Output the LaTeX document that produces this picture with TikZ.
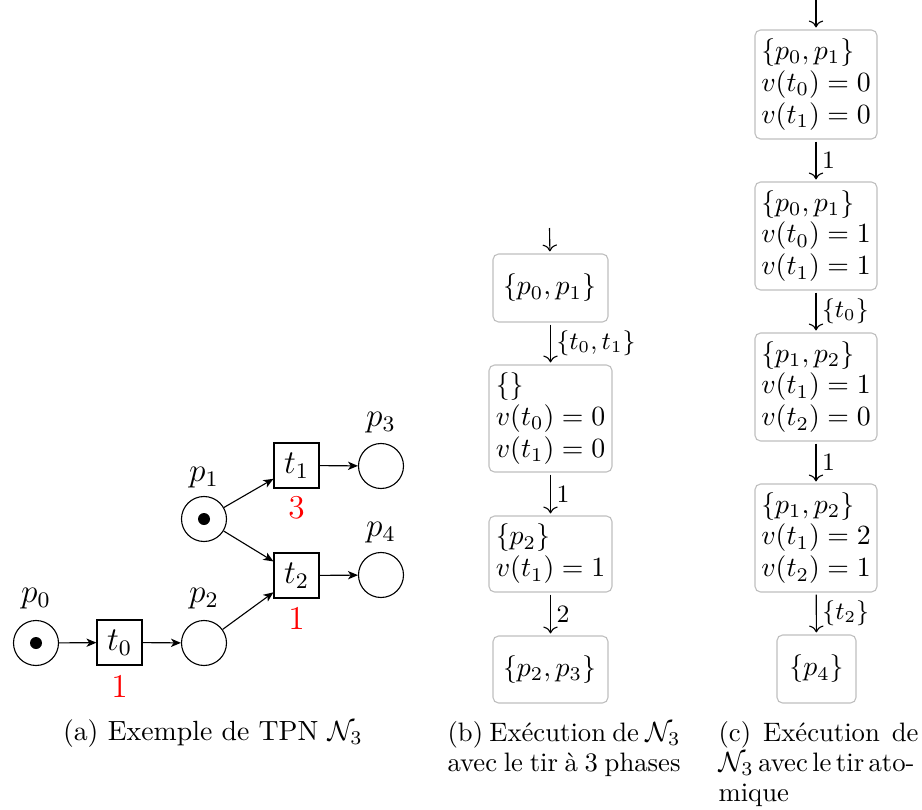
\documentclass[tikz,border=0pt]{standalone}
\usetikzlibrary{arrows.meta}
\newlength\upx \setlength\upx{0.36pt}
\newcommand\tightsp{\spaceskip=2.6pt plus 12pt minus 1pt\relax}
\begin{document}
\begin{tikzpicture}[x=0.36pt,y=-0.36pt,
  place/.style={circle,draw,minimum size=45\upx,inner sep=0pt},
  trans/.style={rectangle,draw,minimum size=45\upx,inner sep=0pt,font=\large},
  tok/.style={circle,fill,minimum size=12\upx,inner sep=0pt},
  plbl/.style={font=\large,inner sep=0pt},
  dly/.style={font=\large,text=red,inner sep=0pt},
  narr/.style={-{Stealth[length=3.6pt,width=3pt,inset=1pt]}},
  state/.style={draw=black!25,rounded corners=2pt,align=left,inner sep=0pt,
    font=\fontsize{10pt}{11.5pt}\selectfont},
  sarr/.style={->,shorten <=2\upx,shorten >=2\upx},
  elbl/.style={right,font=\small,inner sep=2pt},
  captxt/.style={inner sep=0pt,align=left,font=\fontsize{10pt}{10.8pt}\selectfont},
  subcap/.style={inner sep=0pt,align=left,font=\fontsize{9.6pt}{10.8pt}\selectfont}]
\useasboundingbox (0,0) rectangle (922,810);

% ---------- (a) Petri net ----------
\node[place] (p0) at (36,643) {};
\node[tok] (k0) at (p0) {};
\node[trans] (t0) at (119.5,642.5) {$t_0$};
\node[place] (p2) at (204,643) {};
\node[place] (p1) at (204,519) {};
\node[tok] (k1) at (p1) {};
\node[trans] (t1) at (296.5,465.5) {$t_1$};
\node[trans] (t2) at (296.5,575.5) {$t_2$};
\node[place] (p3) at (381,466) {};
\node[place] (p4) at (381,575) {};

\node[plbl] (lp0) at (36,599) {$p_0$};
\node[plbl] (lp1) at (204,478) {$p_1$};
\node[plbl] (lp2) at (204,599) {$p_2$};
\node[plbl] (lp3) at (381,423) {$p_3$};
\node[plbl] (lp4) at (381,533) {$p_4$};

\node[dly] (d0) at (119.5,686) {1};
\node[dly] (d1) at (296.5,508) {3};
\node[dly] (d2) at (296.5,618) {1};

\draw[narr] (p0) -- (t0);
\draw[narr] (t0) -- (p2);
\draw[narr] (p2) -- (t2);
\draw[narr] (p1) -- (t1);
\draw[narr] (p1) -- (t2);
\draw[narr] (t1) -- (p3);
\draw[narr] (t2) -- (p4);

\node[captxt,anchor=base] (capa) at (213,740) {(a) Exemple de TPN $\mathcal{N}_3$};

% ---------- (b) three-phase firing ----------
\coordinate (bs) at (549.5,228);
\node[state,minimum width=115\upx,minimum height=68\upx,text width=95\upx] (b1) at (550.5,288)
  {$\{p_0,p_1\}$};
\node[state,minimum width=123\upx,minimum height=107\upx] (b2) at (550.5,418.5)
  {$\{\}$\\ $v(t_0)=0$\\ $v(t_1)=0$};
\node[state,minimum width=123\upx,minimum height=76\upx] (b3) at (550.5,554)
  {$\{p_2\}$\\ $v(t_1)=1$};
\node[state,minimum width=115\upx,minimum height=67\upx,text width=95\upx] (b4) at (550.5,669.5)
  {$\{p_2,p_3\}$};
\draw[->,shorten >=2\upx] (bs) -- (b1);
\draw[sarr] (b1) -- node[elbl] (lb1) {$\{t_0,t_1\}$} (b2);
\draw[sarr] (b2) -- node[elbl] (lb2) {1} (b3);
\draw[sarr] (b3) -- node[elbl] (lb3) {2} (b4);

\node[subcap,anchor=north west] (capb) at (447,721)
  {\makebox[233\upx][s]{\tightsp (b) Exécution de $\mathcal{N}_3$}\\
   \makebox[233\upx][s]{\tightsp avec le tir à 3 phases}};

% ---------- (c) atomic firing ----------
\coordinate (cs) at (816,0);
\node[state,minimum width=122\upx,minimum height=109\upx] (c1) at (816,84.5)
  {$\{p_0,p_1\}$\\ $v(t_0)=0$\\ $v(t_1)=0$};
\node[state,minimum width=122\upx,minimum height=108\upx] (c2) at (816,236)
  {$\{p_0,p_1\}$\\ $v(t_0)=1$\\ $v(t_1)=1$};
\node[state,minimum width=122\upx,minimum height=108\upx] (c3) at (816,387)
  {$\{p_1,p_2\}$\\ $v(t_1)=1$\\ $v(t_2)=0$};
\node[state,minimum width=122\upx,minimum height=108\upx] (c4) at (816,538)
  {$\{p_1,p_2\}$\\ $v(t_1)=2$\\ $v(t_2)=1$};
\node[state,minimum width=79\upx,minimum height=68\upx] (c5) at (816.5,669)
  {$\{p_4\}$};
\draw[->,shorten >=2\upx] (cs) -- (c1);
\draw[sarr] (c1) -- node[elbl] (lc1) {1} (c2);
\draw[sarr] (c2) -- node[elbl] (lc2) {$\{t_0\}$} (c3);
\draw[sarr] (c3) -- node[elbl] (lc3) {1} (c4);
\draw[sarr] (c4) -- node[elbl] (lc4) {$\{t_2\}$} (c5);

\node[subcap,anchor=north west] (capc) at (718,721)
  {\makebox[200\upx][s]{\tightsp (c) Exécution de}\\
   \makebox[196\upx][s]{\tightsp $\mathcal{N}_3$ avec le tir ato-}\\
   mique};
\end{tikzpicture}
\end{document}
